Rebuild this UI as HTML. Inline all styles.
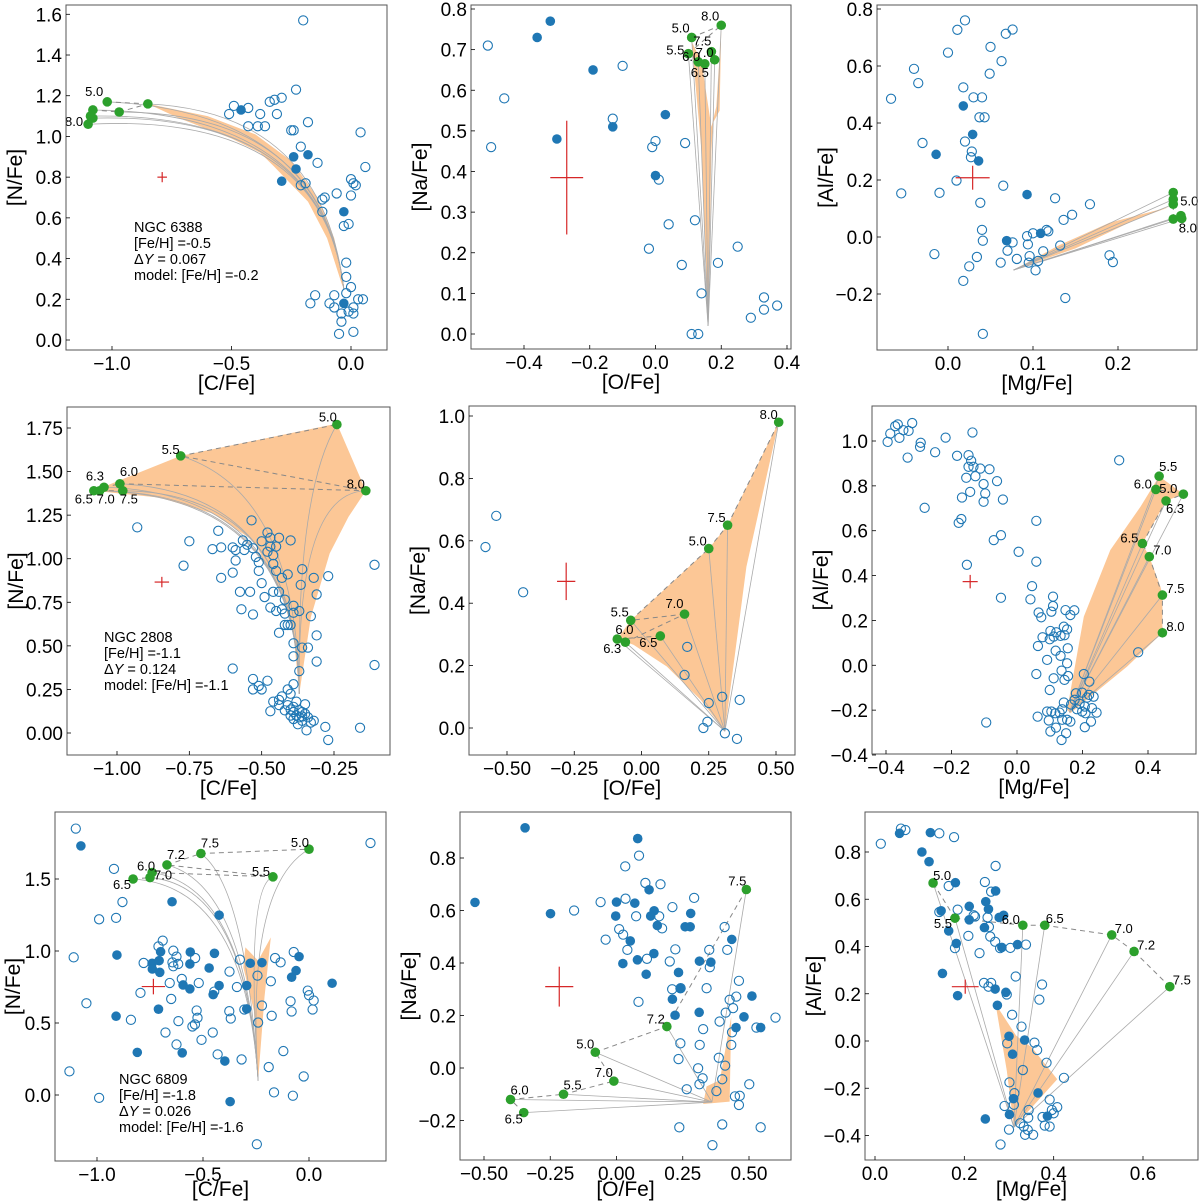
<!DOCTYPE html>
<html><head><meta charset="utf-8"><title>Abundance panels</title>
<style>
html,body{margin:0;padding:0;background:#fff;}
svg{display:block;font-family:"Liberation Sans","DejaVu Sans",sans-serif;}
</style></head>
<body>
<svg id="fig" xmlns="http://www.w3.org/2000/svg" width="1200" height="1204" viewBox="0 0 1200 1204"></svg>
<script>
// ---------- Panel 1: NGC 6388, C vs N ----------
const p1Hollow=[[-0.20,1.57],[-0.23,1.23],[-0.49,1.15],[-0.43,1.14],[-0.51,1.11],[-0.34,1.17],[-0.32,1.18],[-0.29,1.19],[-0.38,1.11],[-0.31,1.11],[-0.43,1.05],[-0.39,1.05],[-0.36,1.05],[-0.25,1.03],[-0.24,1.03],[-0.18,1.07],[0.04,1.02],[-0.21,0.95],[-0.14,0.87],[0.00,0.79],[0.01,0.77],[0.02,0.76],[0.06,0.85],[0.00,0.71],[-0.06,0.72],[-0.19,0.77],[-0.21,0.76],[-0.12,0.69],[-0.11,0.70],[-0.12,0.63],[-0.03,0.56],[-0.01,0.57],[-0.02,0.38],[-0.02,0.31],[0.00,0.26],[-0.15,0.22],[-0.17,0.18],[-0.07,0.22],[-0.09,0.18],[-0.07,0.16],[-0.02,0.23],[0.03,0.20],[0.05,0.20],[-0.04,0.13],[-0.01,0.14],[0.01,0.16],[0.01,0.13],[-0.04,0.09],[-0.05,0.03],[0.01,0.04]];
const p1Filled=[[-0.46,1.13],[-0.24,0.90],[-0.18,0.91],[-0.23,0.84],[-0.29,0.78],[-0.03,0.63],[-0.03,0.18]];
const p1Green=[[-1.02,1.17],[-0.85,1.16],[-0.97,1.12],[-1.08,1.13],[-1.09,1.10],[-1.08,1.09],[-1.10,1.06]];
const p1GreenLabels=["5.0","","","","","","8.0"];
const p1Region=[[-0.85,1.16],[-0.6,1.10],[-0.4,1.01],[-0.25,0.88],[-0.14,0.70],[-0.07,0.50],[-0.03,0.25],[-0.04,0.28],[-0.10,0.50],[-0.18,0.68],[-0.32,0.85],[-0.38,0.92],[-0.5,0.99],[-0.72,1.09]];
const p1Tip=[-0.03,0.25];
const p1Err=[-0.79,0.80,0.02,0.025];
// ---------- Panel 2: NGC 6388, O vs Na ----------
const p2Hollow=[[-0.51,0.71],[-0.46,0.58],[-0.50,0.46],[-0.10,0.66],[-0.13,0.53],[0.00,0.475],[-0.01,0.46],[0.09,0.47],[0.01,0.38],[0.12,0.28],[0.04,0.27],[-0.02,0.21],[0.08,0.17],[0.19,0.175],[0.25,0.215],[0.14,0.10],[0.11,0.0],[0.13,0.0],[0.29,0.04],[0.33,0.09],[0.33,0.06],[0.37,0.07]];
const p2Filled=[[-0.32,0.77],[-0.36,0.73],[-0.19,0.65],[-0.30,0.48],[-0.13,0.51],[0.03,0.54],[0.0,0.39]];
const p2Green=[[0.11,0.73],[0.20,0.76],[0.10,0.69],[0.13,0.67],[0.15,0.665],[0.18,0.675],[0.17,0.695]];
const p2GreenLabels=["5.0","8.0","5.5","6.0","6.5","7.0","7.5"];
const p2Region=[[0.11,0.72],[0.14,0.45],[0.16,0.02],[0.17,0.45],[0.175,0.52],[0.195,0.55],[0.20,0.75],[0.185,0.56],[0.17,0.51],[0.14,0.67]];
const p2Tip=[0.16,0.02];
const p2Err=[-0.27,0.385,0.05,0.14];
// ---------- Panel 3: NGC 6388, Mg vs Al ----------
const p3Hollow=[[-0.067,0.485],[-0.055,0.153],[-0.04,0.59],[-0.035,0.54],[-0.03,0.33],[-0.01,0.155],[-0.016,-0.06],[0.0,0.647],[0.011,0.727],[0.02,0.76],[0.018,0.525],[0.03,0.49],[0.04,0.49],[0.037,0.42],[0.043,0.42],[0.02,0.335],[0.028,0.30],[0.027,0.28],[0.01,0.198],[0.038,0.12],[0.04,0.025],[0.041,-0.013],[0.034,-0.07],[0.025,-0.103],[0.018,-0.154],[0.041,-0.34],[0.05,0.667],[0.049,0.573],[0.063,0.617],[0.068,0.713],[0.076,0.728],[0.065,0.18],[0.062,-0.09],[0.07,-0.048],[0.076,-0.019],[0.081,-0.077],[0.093,0.003],[0.094,-0.026],[0.1,0.013],[0.096,-0.067],[0.095,-0.09],[0.103,-0.117],[0.106,-0.084],[0.112,-0.05],[0.116,0.025],[0.118,0.02],[0.126,0.136],[0.132,-0.03],[0.136,0.06],[0.146,0.078],[0.167,0.115],[0.138,-0.214],[0.19,-0.064],[0.194,-0.088]];
const p3Filled=[[0.018,0.46],[0.029,0.36],[-0.014,0.29],[0.036,0.267],[0.093,0.149],[0.069,-0.013],[0.109,0.013]];
const p3Green=[[0.265,0.156],[0.265,0.132],[0.265,0.115],[0.265,0.063],[0.274,0.075],[0.275,0.065]];
const p3GreenLabels=["","5.0","","","","8.0"];
const p3Region=[[0.077,-0.116],[0.13,-0.03],[0.19,0.05],[0.26,0.105],[0.22,0.06],[0.15,-0.04]];
const p3Tip=[0.077,-0.116];
const p3Err=[0.029,0.208,0.02,0.042];
// ---------- Panel 4: NGC 2808, C vs N ----------
const p4Hollow=[[-0.93,1.18],[-0.75,1.10],[-0.77,0.96],[-0.67,1.055],[-0.64,1.065],[-0.65,1.16],[-0.64,0.89],[-0.60,1.065],[-0.59,1.05],[-0.59,0.99],[-0.60,0.92],[-0.575,0.81],[-0.54,0.81],[-0.57,0.71],[-0.53,0.68],[-0.60,0.37],[-0.565,1.105],[-0.56,1.05],[-0.535,1.22],[-0.55,1.08],[-0.53,1.06],[-0.52,1.01],[-0.51,0.98],[-0.51,0.93],[-0.50,0.86],[-0.49,0.78],[-0.48,1.15],[-0.47,1.12],[-0.50,1.10],[-0.48,1.04],[-0.47,1.07],[-0.45,1.07],[-0.44,1.12],[-0.46,1.02],[-0.46,0.97],[-0.45,0.93],[-0.43,0.89],[-0.46,0.81],[-0.44,0.81],[-0.47,0.72],[-0.45,0.70],[-0.43,0.71],[-0.42,0.685],[-0.42,0.765],[-0.41,0.91],[-0.40,1.105],[-0.39,0.69],[-0.42,0.62],[-0.41,0.62],[-0.40,0.62],[-0.44,0.575],[-0.39,0.515],[-0.39,0.44],[-0.39,0.73],[-0.37,0.70],[-0.365,0.85],[-0.36,0.94],[-0.32,0.89],[-0.31,0.795],[-0.33,0.67],[-0.31,0.56],[-0.34,0.49],[-0.36,0.49],[-0.37,0.355],[-0.31,0.41],[-0.27,0.90],[-0.11,0.965],[-0.11,0.39],[-0.16,0.03],[-0.28,0.035],[-0.27,-0.04],[-0.53,0.31],[-0.53,0.25],[-0.51,0.27],[-0.50,0.25],[-0.48,0.30],[-0.47,0.125],[-0.46,0.18],[-0.44,0.19],[-0.44,0.16],[-0.43,0.21],[-0.41,0.25],[-0.40,0.225],[-0.39,0.28],[-0.42,0.13],[-0.41,0.16],[-0.40,0.135],[-0.39,0.12],[-0.39,0.15],[-0.38,0.10],[-0.38,0.18],[-0.37,0.13],[-0.36,0.095],[-0.36,0.12],[-0.35,0.165],[-0.35,0.11],[-0.34,0.09],[-0.33,0.06],[-0.32,0.07],[-0.345,0.015],[-0.37,0.09],[-0.39,0.08],[-0.36,0.07],[-0.40,0.10],[-0.375,0.05]];
const p4Filled=[];
const p4Green=[[-0.24,1.77],[-0.78,1.59],[-0.14,1.39],[-0.99,1.43],[-1.045,1.41],[-1.08,1.39],[-1.06,1.39],[-0.98,1.39]];
const p4GreenLabels=["5.0","5.5","8.0","6.0","6.3","6.5","7.0","7.5"];
const p4Region=[[-1.08,1.39],[-0.78,1.59],[-0.24,1.775],[-0.14,1.39],[-0.20,1.24],[-0.265,1.03],[-0.33,0.665],[-0.37,0.225],[-0.39,0.57],[-0.44,0.84],[-0.53,1.105],[-0.67,1.26],[-0.85,1.35]];
const p4Tip=[-0.37,0.225];
const p4Err=[-0.845,0.866,0.025,0.03];
// ---------- Panel 5: NGC 2808, O vs Na ----------
const p5Hollow=[[-0.58,0.58],[-0.54,0.68],[-0.44,0.435],[0.17,0.26],[0.16,0.17],[0.25,0.08],[0.30,0.10],[0.365,0.09],[0.245,0.02],[0.23,0.0],[0.31,-0.017],[0.355,-0.035]];
const p5Filled=[];
const p5Green=[[0.51,0.98],[0.32,0.65],[0.25,0.575],[-0.04,0.345],[0.16,0.365],[-0.06,0.275],[-0.09,0.285],[0.07,0.295]];
const p5GreenLabels=["8.0","7.5","5.0","5.5","7.0","6.0","6.3","6.5"];
const p5Region=[[-0.09,0.285],[-0.04,0.345],[0.25,0.575],[0.32,0.65],[0.51,0.98],[0.39,0.517],[0.31,-0.01],[0.22,0.09],[0.094,0.197],[-0.03,0.267]];
const p5Tip=[0.31,-0.01];
const p5Err=[-0.28,0.47,0.034,0.06];
// ---------- Panel 6: NGC 2808, Mg vs Al ----------
const p6Hollow=[[-0.395,0.996],[-0.387,1.033],[-0.372,1.066],[-0.364,1.074],[-0.359,1.014],[-0.347,1.048],[-0.334,0.926],[-0.331,1.045],[-0.32,1.08],[-0.296,0.974],[-0.294,0.992],[-0.282,0.702],[-0.25,0.95],[-0.218,1.015],[-0.183,0.934],[-0.148,0.937],[-0.14,0.912],[-0.136,1.038],[-0.148,0.885],[-0.133,0.885],[-0.127,0.843],[-0.155,0.836],[-0.168,0.748],[-0.143,0.773],[-0.178,0.635],[-0.17,0.652],[-0.153,0.448],[-0.112,0.877],[-0.084,0.874],[-0.102,0.808],[-0.097,0.766],[-0.102,0.729],[-0.061,0.821],[-0.043,0.739],[-0.049,0.58],[-0.071,0.558],[0.005,0.506],[0.059,0.644],[0.059,0.462],[0.046,0.353],[0.041,0.294],[-0.049,0.301],[0.312,0.914],[0.11,0.306],[0.11,0.264],[0.066,0.235],[0.074,0.214],[0.105,0.239],[0.148,0.246],[0.175,0.245],[0.163,0.224],[0.37,0.058],[-0.094,-0.255],[0.102,0.153],[0.12,0.147],[0.112,0.128],[0.078,0.125],[0.064,0.086],[0.1,0.116],[0.133,0.131],[0.143,0.172],[0.145,0.134],[0.153,0.16],[0.155,0.076],[0.092,0.024],[0.118,0.065],[0.133,0.042],[0.153,0.009],[0.136,-0.024],[0.145,-0.065],[0.059,-0.039],[0.1,-0.11],[0.156,-0.048],[0.204,-0.039],[0.221,-0.073],[0.112,-0.058],[0.063,-0.229],[0.097,-0.246],[0.105,-0.206],[0.102,-0.295],[0.119,-0.278],[0.138,-0.243],[0.143,-0.166],[0.138,-0.196],[0.13,-0.211],[0.153,-0.243],[0.165,-0.175],[0.176,-0.154],[0.183,-0.196],[0.191,-0.172],[0.199,-0.206],[0.207,-0.184],[0.214,-0.144],[0.209,-0.214],[0.22,-0.132],[0.234,-0.14],[0.229,-0.191],[0.243,-0.211],[0.226,-0.251],[0.207,-0.276],[0.163,-0.251],[0.136,-0.333],[0.15,-0.303],[0.117,-0.214],[0.092,-0.206],[0.18,-0.125],[0.199,-0.122]];
const p6Filled=[];
const p6Green=[[0.434,0.843],[0.424,0.784],[0.508,0.763],[0.455,0.733],[0.383,0.543],[0.404,0.484],[0.444,0.313],[0.444,0.145]];
const p6GreenLabels=["5.5","6.0","5.0","6.3","6.5","7.0","7.5","8.0"];
const p6Region=[[0.153,-0.199],[0.204,0.217],[0.285,0.514],[0.377,0.707],[0.434,0.843],[0.508,0.763],[0.455,0.733],[0.383,0.543],[0.404,0.484],[0.438,0.35],[0.444,0.313],[0.444,0.145],[0.336,-0.006],[0.224,-0.14],[0.163,-0.214]];
const p6Tip=[0.16,-0.21];
const p6Err=[-0.143,0.373,0.023,0.03];
// ---------- Panel 7: NGC 6809, C vs N ----------
const p7Hollow=[[-1.10,1.85],[-0.92,1.57],[-0.99,1.22],[-0.91,1.23],[-0.88,1.34],[-1.11,0.956],[-1.05,0.637],[-0.84,0.522],[-0.795,0.709],[-0.78,0.917],[-0.71,1.032],[-0.69,1.072],[-0.64,1.002],[-0.625,0.961],[-0.644,0.921],[-0.64,0.894],[-0.617,0.91],[-0.657,0.778],[-0.60,0.806],[-0.65,0.667],[-0.52,0.778],[-0.537,0.951],[-0.53,0.587],[-0.526,0.536],[-0.55,0.476],[-0.538,0.49],[-0.616,0.513],[-0.677,0.434],[-0.625,0.351],[-0.507,0.383],[-0.454,0.434],[-0.447,0.718],[-0.431,0.282],[-0.375,0.857],[-0.34,0.75],[-0.376,0.582],[-0.369,0.531],[-0.326,0.94],[-0.318,0.247],[-0.305,0.594],[-0.243,0.829],[-0.222,0.621],[-0.24,0.503],[-0.18,0.79],[-0.176,0.55],[-0.19,0.194],[-0.165,0.018],[-0.16,0.951],[-0.134,0.921],[-0.121,0.305],[-0.087,0.651],[-0.082,0.58],[-0.072,0.993],[-0.076,-0.005],[-0.025,0.129],[-0.006,0.725],[0.0,0.693],[0.022,0.656],[0.017,0.594],[-1.13,0.164],[-0.99,-0.02],[-0.246,-0.342],[0.29,1.75]];
const p7Filled=[[-1.076,1.73],[-0.906,0.972],[-0.91,0.547],[-0.81,0.296],[-0.74,0.915],[-0.707,0.933],[-0.739,0.875],[-0.70,0.995],[-0.704,0.852],[-0.71,0.596],[-0.646,1.342],[-0.594,0.764],[-0.562,0.737],[-0.56,0.993],[-0.562,0.91],[-0.598,0.293],[-0.471,0.882],[-0.452,0.697],[-0.446,0.984],[-0.424,0.76],[-0.424,1.249],[-0.397,0.236],[-0.372,-0.046],[-0.294,0.76],[-0.294,0.598],[-0.277,0.915],[-0.222,0.919],[-0.082,0.818],[-0.061,0.864],[-0.047,0.961],[0.109,0.776]];
const p7Green=[[0.0,1.707],[-0.51,1.677],[-0.67,1.598],[-0.17,1.515],[-0.74,1.545],[-0.75,1.51],[-0.83,1.50]];
const p7GreenLabels=["5.0","7.5","7.2","5.5","6.0","7.0","6.5"];
const p7Region=[[-0.30,1.025],[-0.24,0.933],[-0.18,1.095],[-0.21,0.679],[-0.24,0.10],[-0.26,0.587],[-0.31,0.887]];
const p7Tip=[-0.24,0.10];
const p7Err=[-0.734,0.753,0.055,0.054];
// ---------- Panel 8: NGC 6809, O vs Na ----------
const p8Hollow=[[0.033,0.768],[0.085,0.809],[0.109,0.705],[0.166,0.70],[-0.06,0.632],[0.034,0.645],[-0.16,0.60],[0.074,0.578],[0.161,0.578],[0.172,0.532],[0.01,0.529],[0.025,0.508],[-0.041,0.489],[0.041,0.45],[0.115,0.416],[0.211,0.613],[0.293,0.648],[0.222,0.452],[0.201,0.406],[0.21,0.30],[0.242,0.304],[0.083,0.252],[0.35,0.45],[0.352,0.384],[0.34,0.304],[0.408,0.537],[0.418,0.45],[0.462,0.332],[0.452,0.272],[0.427,0.26],[0.44,0.228],[0.412,0.211],[0.389,0.177],[0.327,0.148],[0.436,0.136],[0.241,0.094],[0.314,0.088],[0.234,0.034],[0.386,0.039],[0.41,0.009],[0.308,-0.001],[0.325,-0.039],[0.313,-0.062],[0.399,-0.043],[0.433,0.088],[0.265,-0.081],[0.377,-0.088],[0.447,-0.108],[0.465,-0.106],[0.462,-0.141],[0.501,-0.062],[0.528,0.154],[0.60,0.192],[0.237,-0.226],[0.399,-0.215],[0.544,-0.226],[0.362,-0.294]];
const p8Filled=[[-0.345,0.915],[-0.534,0.631],[-0.249,0.588],[0.08,0.874],[0.123,0.679],[0.0,0.632],[0.069,0.628],[-0.003,0.579],[0.142,0.599],[0.129,0.579],[0.154,0.543],[0.28,0.589],[0.259,0.538],[0.278,0.538],[0.052,0.484],[0.024,0.398],[0.079,0.412],[0.141,0.436],[0.112,0.357],[0.234,0.364],[0.24,0.303],[0.211,0.262],[0.221,0.201],[0.313,0.407],[0.356,0.403],[0.312,0.212],[0.435,0.49],[0.511,0.274],[0.481,0.195],[0.451,0.154],[0.544,0.154]];
const p8Green=[[0.49,0.68],[0.19,0.158],[-0.08,0.06],[-0.01,-0.05],[-0.20,-0.10],[-0.40,-0.12],[-0.35,-0.17]];
const p8GreenLabels=["7.5","7.2","5.0","7.0","5.5","6.0","6.5"];
const p8Region=[[0.327,-0.137],[0.34,-0.07],[0.39,-0.046],[0.433,0.196],[0.427,-0.128]];
const p8Tip=[0.36,-0.13];
const p8Err=[-0.216,0.31,0.053,0.076];
// ---------- Panel 9: NGC 6809, Mg vs Al ----------
const p9Hollow=[[0.013,0.835],[0.058,0.899],[0.068,0.893],[0.144,0.879],[0.177,0.863],[0.27,0.741],[0.246,0.673],[0.165,0.656],[0.26,0.632],[0.185,0.556],[0.144,0.546],[0.221,0.532],[0.252,0.523],[0.224,0.527],[0.255,0.483],[0.209,0.445],[0.258,0.442],[0.269,0.42],[0.303,0.394],[0.338,0.408],[0.28,0.393],[0.234,0.372],[0.179,0.393],[0.244,0.246],[0.26,0.246],[0.254,0.23],[0.315,0.273],[0.374,0.239],[0.368,0.175],[0.295,0.197],[0.307,0.111],[0.328,0.061],[0.357,-0.007],[0.363,-0.038],[0.384,-0.092],[0.296,-0.01],[0.331,-0.123],[0.301,-0.175],[0.423,-0.156],[0.312,-0.221],[0.311,-0.27],[0.29,-0.275],[0.3,-0.375],[0.281,-0.438],[0.325,-0.348],[0.333,-0.362],[0.342,-0.376],[0.336,-0.397],[0.354,-0.397],[0.343,-0.325],[0.344,-0.292],[0.375,-0.322],[0.38,-0.358],[0.391,-0.362],[0.396,-0.292],[0.391,-0.248],[0.4,-0.306],[0.408,-0.28]];
const p9Filled=[[0.055,0.879],[0.124,0.882],[0.105,0.8],[0.121,0.759],[0.18,0.67],[0.27,0.635],[0.248,0.59],[0.211,0.57],[0.254,0.558],[0.148,0.551],[0.211,0.513],[0.278,0.523],[0.288,0.532],[0.245,0.48],[0.165,0.466],[0.182,0.413],[0.284,0.396],[0.319,0.408],[0.151,0.286],[0.185,0.192],[0.269,0.22],[0.293,0.206],[0.274,0.151],[0.3,0.02],[0.335,0.004],[0.308,-0.056],[0.31,-0.244],[0.301,-0.311],[0.365,-0.22],[0.386,-0.318],[0.247,-0.33]];
const p9Green=[[0.13,0.669],[0.179,0.52],[0.331,0.49],[0.38,0.49],[0.53,0.449],[0.58,0.379],[0.66,0.23]];
const p9GreenLabels=["5.0","5.5","6.0","6.5","7.0","7.2","7.5"];
const p9Region=[[0.27,0.156],[0.316,0.023],[0.351,-0.027],[0.408,-0.162],[0.311,-0.365],[0.295,-0.125]];
const p9Tip=[0.311,-0.365];
const p9Err=[0.202,0.23,0.03,0.03];

// ---------- tick values ----------
const tkX1=[-1.0,-0.5,0.0], tkY1=[0.0,0.2,0.4,0.6,0.8,1.0,1.2,1.4,1.6];
const tkX2=[-0.4,-0.2,0.0,0.2,0.4], tkY2=[0.0,0.1,0.2,0.3,0.4,0.5,0.6,0.7,0.8];
const tkX3=[0.0,0.1,0.2], tkY3=[-0.2,0.0,0.2,0.4,0.6,0.8];
const tkX4=[-1.0,-0.75,-0.5,-0.25], tkY4=[0.0,0.25,0.5,0.75,1.0,1.25,1.5,1.75];
const tkX5=[-0.5,-0.25,0.0,0.25,0.5], tkY5=[0.0,0.2,0.4,0.6,0.8,1.0];
const tkX6=[-0.4,-0.2,0.0,0.2,0.4], tkY6=[-0.4,-0.2,0.0,0.2,0.4,0.6,0.8,1.0];
const tkX7=[-1.0,-0.5,0.0], tkY7=[0.0,0.5,1.0,1.5];
const tkX8=[-0.5,-0.25,0.0,0.25,0.5], tkY8=[-0.2,0.0,0.2,0.4,0.6,0.8];
const tkX9=[0.0,0.2,0.4,0.6], tkY9=[-0.4,-0.2,0.0,0.2,0.4,0.6,0.8];

const NS="http://www.w3.org/2000/svg";
const svg=document.getElementById('fig');
function mk(tag,attrs,parent){const e=document.createElementNS(NS,tag);for(const k in attrs)e.setAttribute(k,attrs[k]);(parent||svg).appendChild(e);return e;}
function fmt(v,d){const s=Math.abs(v).toFixed(d);return (v<-1e-9?'\u2212':'')+s;}

const layouts=[
 {n:1,box:[66,5,387,350],xc:[-1,112,0,351],yc:[0,340,1.6,14.3],xd:1,yd:1,xl:'[C/Fe]',yl:'[N/Fe]',H:p1Hollow,F:p1Filled,G:p1Green,GL:p1GreenLabels,R:p1Region,T:p1Tip,E:p1Err,XT:tkX1,YT:tkY1,ctrl:[-0.12,1.12],
  off:[['end',-4,-6],null,null,null,null,null,['end',-5,2]],txt:['NGC 6388','[Fe/H] =-0.5','0.067','model: [Fe/H] =-0.2'],tp:[134,232]},
 {n:2,box:[471,5,791,349],xc:[-0.4,524,0.4,787],yc:[0,334,0.8,9],xd:1,yd:1,xl:'[O/Fe]',yl:'[Na/Fe]',H:p2Hollow,F:p2Filled,G:p2Green,GL:p2GreenLabels,R:p2Region,T:p2Tip,E:p2Err,XT:tkX2,YT:tkY2,ctrl:null,
  off:[['end',-2,-5],['end',-2,-5],['end',-4,1],['end',2,-1],['end',4,13],['end',-1,-3],['end',0,-6]]},
 {n:3,box:[877,5,1197,350],xc:[0,948,0.2,1118],yc:[-0.2,294,0.8,9],xd:1,yd:1,xl:'[Mg/Fe]',yl:'[Al/Fe]',H:p3Hollow,F:p3Filled,G:p3Green,GL:p3GreenLabels,R:p3Region,T:p3Tip,E:p3Err,XT:tkX3,YT:tkY3,ctrl:null,
  off:[null,['start',7,6],null,null,null,['start',-3,14]]},
 {n:4,box:[67,407,390,755],xc:[-1,117,-0.25,334],yc:[0,733,1.75,428],xd:2,yd:2,xl:'[C/Fe]',yl:'[N/Fe]',H:p4Hollow,F:p4Filled,G:p4Green,GL:p4GreenLabels,R:p4Region,T:p4Tip,E:p4Err,XT:tkX4,YT:tkY4,ctrl:[-0.38,1.38],
  off:[['end',0,-3],['end',-1,-2],['end',-1,-2],['start',0,-8],['end',0,-7],['end',-1,13],['start',-3,13],['start',-3,13]],txt:['NGC 2808','[Fe/H] =-1.1','0.124','model: [Fe/H] =-1.1'],tp:[104,642]},
 {n:5,box:[469,406,795,755],xc:[-0.5,507,0.5,776],yc:[0,728,1.0,416],xd:2,yd:1,xl:'[O/Fe]',yl:'[Na/Fe]',H:p5Hollow,F:p5Filled,G:p5Green,GL:p5GreenLabels,R:p5Region,T:p5Tip,E:p5Err,XT:tkX5,YT:tkY5,ctrl:null,
  off:[['end',-1,-3],['end',-2,-3],['end',-2,-3],['end',-2,-4],['end',-1,-6],['start',-10,-8],['end',4,14],['end',-3,11]]},
 {n:6,box:[872,406,1196,754],xc:[-0.4,886,0.4,1148],yc:[-0.4,755,1.0,441],xd:1,yd:1,xl:'[Mg/Fe]',yl:'[Al/Fe]',H:p6Hollow,F:p6Filled,G:p6Green,GL:p6GreenLabels,R:p6Region,T:p6Tip,E:p6Err,XT:tkX6,YT:tkY6,ctrl:null,
  off:[['start',0,-5],['end',-4,-1],['end',-6,-1],['start',0,12],['end',-4,-1],['start',4,-2],['start',4,-2],['start',4,-2]]},
 {n:7,box:[55,812,386,1161],xc:[-1,97,0,309],yc:[0,1095,1.5,879],xd:1,yd:1,xl:'[C/Fe]',yl:'[N/Fe]',H:p7Hollow,F:p7Filled,G:p7Green,GL:p7GreenLabels,R:p7Region,T:p7Tip,E:p7Err,XT:tkX7,YT:tkY7,ctrl:[-0.3,1.45],
  off:[['end',0,-2],['start',0,-6],['start',0,-6],['end',-3,-1],['end',3,-2],['start',4,2],['end',-2,10]],txt:['NGC 6809','[Fe/H] =-1.8','0.026','model: [Fe/H] =-1.6'],tp:[119,1084]},
 {n:8,box:[460,812,791,1160],xc:[-0.5,484,0.5,749],yc:[0,1068,0.8,858],xd:2,yd:1,xl:'[O/Fe]',yl:'[Na/Fe]',H:p8Hollow,F:p8Filled,G:p8Green,GL:p8GreenLabels,R:p8Region,T:p8Tip,E:p8Err,XT:tkX8,YT:tkY8,ctrl:null,
  off:[['end',0,-4],['end',-2,-3],['end',-1,-4],['end',-1,-4],['start',0,-5],['start',0,-5],['end',-1,11]]},
 {n:9,box:[865,812,1198,1160],xc:[0,875,0.6,1143],yc:[0,1041,0.8,852],xd:1,yd:1,xl:'[Mg/Fe]',yl:'[Al/Fe]',H:p9Hollow,F:p9Filled,G:p9Green,GL:p9GreenLabels,R:p9Region,T:p9Tip,E:p9Err,XT:tkX9,YT:tkY9,ctrl:null,
  off:[['start',0,-3],['end',-3,10],['end',-3,-1],['start',1,-2],['start',3,-2],['start',3,-2],['start',3,-2]]}
];

layouts.forEach(L=>{
  const sx=v=>L.xc[1]+(v-L.xc[0])*(L.xc[3]-L.xc[1])/(L.xc[2]-L.xc[0]);
  const sy=v=>L.yc[1]+(v-L.yc[0])*(L.yc[3]-L.yc[1])/(L.yc[2]-L.yc[0]);
  const [l,t,r,b]=L.box;
  const g=mk('g',{});
  
  
  const cid='clip'+L.n;
  const cp=mk('clipPath',{id:cid},g); mk('rect',{x:l,y:t,width:r-l,height:b-t},cp);
  const plot=mk('g',{'clip-path':'url(#'+cid+')'},g);
  
  
  const poly=mk('polygon',{points:L.R.map(p=>sx(p[0])+','+sy(p[1])).join(' '),fill:'#fcc796',stroke:'none'},plot);
  
  
  L.G.forEach((p,i)=>{
    let d;
    if(L.ctrl){d='M'+sx(p[0])+','+sy(p[1])+' Q'+sx(L.ctrl[0])+','+sy(L.ctrl[1])+' '+sx(L.T[0])+','+sy(L.T[1]);}
    else {d='M'+sx(p[0])+','+sy(p[1])+' L'+sx(L.T[0])+','+sy(L.T[1]);}
    const ln=mk('path',{d:d,fill:'none',stroke:'#aaa','stroke-width':0.8},plot);
    
    
    if(i>0){const q=L.G[i-1];
      const dl=mk('line',{x1:sx(p[0]),y1:sy(p[1]),x2:sx(q[0]),y2:sy(q[1]),stroke:'#888','stroke-width':1,'stroke-dasharray':'5,4'},plot);
      
      }
  });
  L.H.forEach(p=>{
    const c=mk('circle',{cx:sx(p[0]),cy:sy(p[1]),r:4.6,fill:'none',stroke:'#1f77b4','stroke-width':1.1},plot);
    
    
  });
  L.F.forEach(p=>{
    const c=mk('circle',{cx:sx(p[0]),cy:sy(p[1]),r:4.8,fill:'#1f77b4'},plot);
    
    
  });
  L.G.forEach((p,i)=>{
    const c=mk('circle',{cx:sx(p[0]),cy:sy(p[1]),r:4.8,fill:'#2ca02c'},plot);
    
    
    const o=L.off[i];
    if(L.GL[i]&&o){
      const tx=mk('text',{x:sx(p[0])+o[1],y:sy(p[1])+o[2],'text-anchor':o[0],'font-size':13,fill:'#000'},g);
      tx.textContent=L.GL[i];
      
      
    }
  });
  const E=L.E;
  const eg=mk('g',{stroke:'#d62728','stroke-width':1.2},plot);
  
  
  mk('line',{x1:sx(E[0]-E[2]),x2:sx(E[0]+E[2]),y1:sy(E[1]),y2:sy(E[1])},eg);
  mk('line',{x1:sx(E[0]),x2:sx(E[0]),y1:sy(E[1]-E[3]),y2:sy(E[1]+E[3])},eg);
  const fr=mk('rect',{x:l,y:t,width:r-l,height:b-t,fill:'none',stroke:'#555','stroke-width':1},g);
  
  
  L.XT.forEach(v=>{
    const x=sx(v);
    mk('line',{x1:x,x2:x,y1:b,y2:b-4,stroke:'#000','stroke-width':0.8},g);
    const tx=mk('text',{x:x,y:b+20,'text-anchor':'middle','font-size':19,fill:'#000'},g);
    tx.textContent=fmt(v,L.xd);
    
    
  });
  L.YT.forEach(v=>{
    const y=sy(v);
    mk('line',{x1:l,x2:l+4,y1:y,y2:y,stroke:'#000','stroke-width':0.8},g);
    const tx=mk('text',{x:l-4,y:y+7,'text-anchor':'end','font-size':19,fill:'#000'},g);
    tx.textContent=fmt(v,L.yd);
    
    
  });
  const xt=mk('text',{x:(l+r)/2,y:Math.min(b+40,1196),'text-anchor':'middle','font-size':21,fill:'#000'},g);
  xt.textContent=L.xl;
  
  
  const yx=Math.max(l-44,20), yy=(t+b)/2;
  const yt=mk('text',{x:yx,y:yy,'text-anchor':'middle','font-size':21,fill:'#000',transform:'rotate(-90 '+yx+' '+yy+')'},g);
  yt.textContent=L.yl;
  
  
  if(L.txt){
    const an=mk('text',{x:L.tp[0],y:L.tp[1],'font-size':14.5,fill:'#000'},g);
    
    
    L.txt.forEach((s,i)=>{
      const ts=mk('tspan',{x:L.tp[0],y:L.tp[1]+i*16},an);
      if(i===2){
        const a=mk('tspan',{},ts);a.textContent='\u0394';
        const bI=mk('tspan',{'font-style':'italic'},ts);bI.textContent='Y';
        const c=mk('tspan',{},ts);c.textContent=' = '+s;
      } else ts.textContent=s;
    });
  }
});
</script>
</body></html>
